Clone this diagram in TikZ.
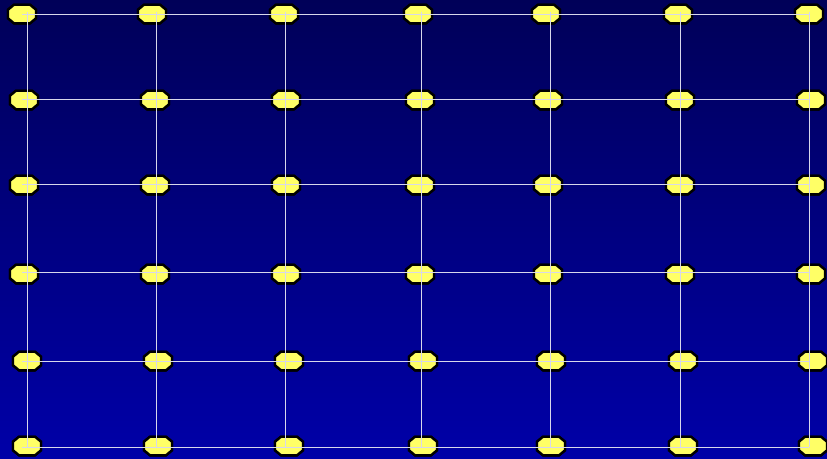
\documentclass[tikz,border=0pt]{standalone}
\usepackage{tikz}
\definecolor{bgtop}{RGB}{0,0,88}
\definecolor{bgbot}{RGB}{0,0,168}
\definecolor{padyellow}{RGB}{255,255,102}
\definecolor{wirewhite}{RGB}{215,215,235}
\newcommand\padoutline{(-14,-4.3)--(-8,-9.3)--(8,-9.3)--(14,-4.3)--(14,4.3)--(8,9.3)--(-8,9.3)--(-14,4.3)--cycle}
\tikzset{
  pad/.style={rectangle,minimum width=28pt,minimum height=18.6pt,inner sep=0pt},
  padshadow/.style={fill=black,draw=black,line width=2.4pt,shift={(1.2,1.3)}},
  padface/.style={fill=padyellow,draw=black,line width=2.4pt,line join=miter},
  wire/.style={draw=wirewhite,line width=0.9pt},
}

\begin{document}
\begin{tikzpicture}[x=1pt,y=-1pt]
 \shade[top color=bgtop,bottom color=bgbot] (0,0) rectangle (827,458);
 \useasboundingbox (0,0) rectangle (827,458);
 % pads, one row at a time
 \foreach \y/\xs [count=\r] in {14/{22,152,284,418,546,678,809},100/{24,155,286,420,548,680,811},
   185/{24,155,286,420,548,680,811},274/{24,155,286,420,548,680,811},
   361/{27,158,289,423,551,683,813},446/{27,158,289,423,551,683,813}}
  \foreach \x [count=\c] in \xs {
   \node[pad] (pad-\r-\c) at (\x,\y) {};
   \draw[padshadow,shift={(pad-\r-\c)}] \padoutline;
   \draw[padface,shift={(pad-\r-\c)}] \padoutline;
  }
 % grid ends
 \foreach \x [count=\c] in {27,156,285,421,550,680,809}{\coordinate (vt\c) at (\x,12); \coordinate (vb\c) at (\x,447);}
 \foreach \y [count=\r] in {14,99,184,272,361,447}{\coordinate (hl\r) at (22,\y); \coordinate (hr\r) at (809,\y);}
 \foreach \c in {1,...,7} \draw[wire] (vt\c)--(vb\c);
 \foreach \r in {1,...,6} \draw[wire] (hl\r)--(hr\r);
\end{tikzpicture}
\end{document}
